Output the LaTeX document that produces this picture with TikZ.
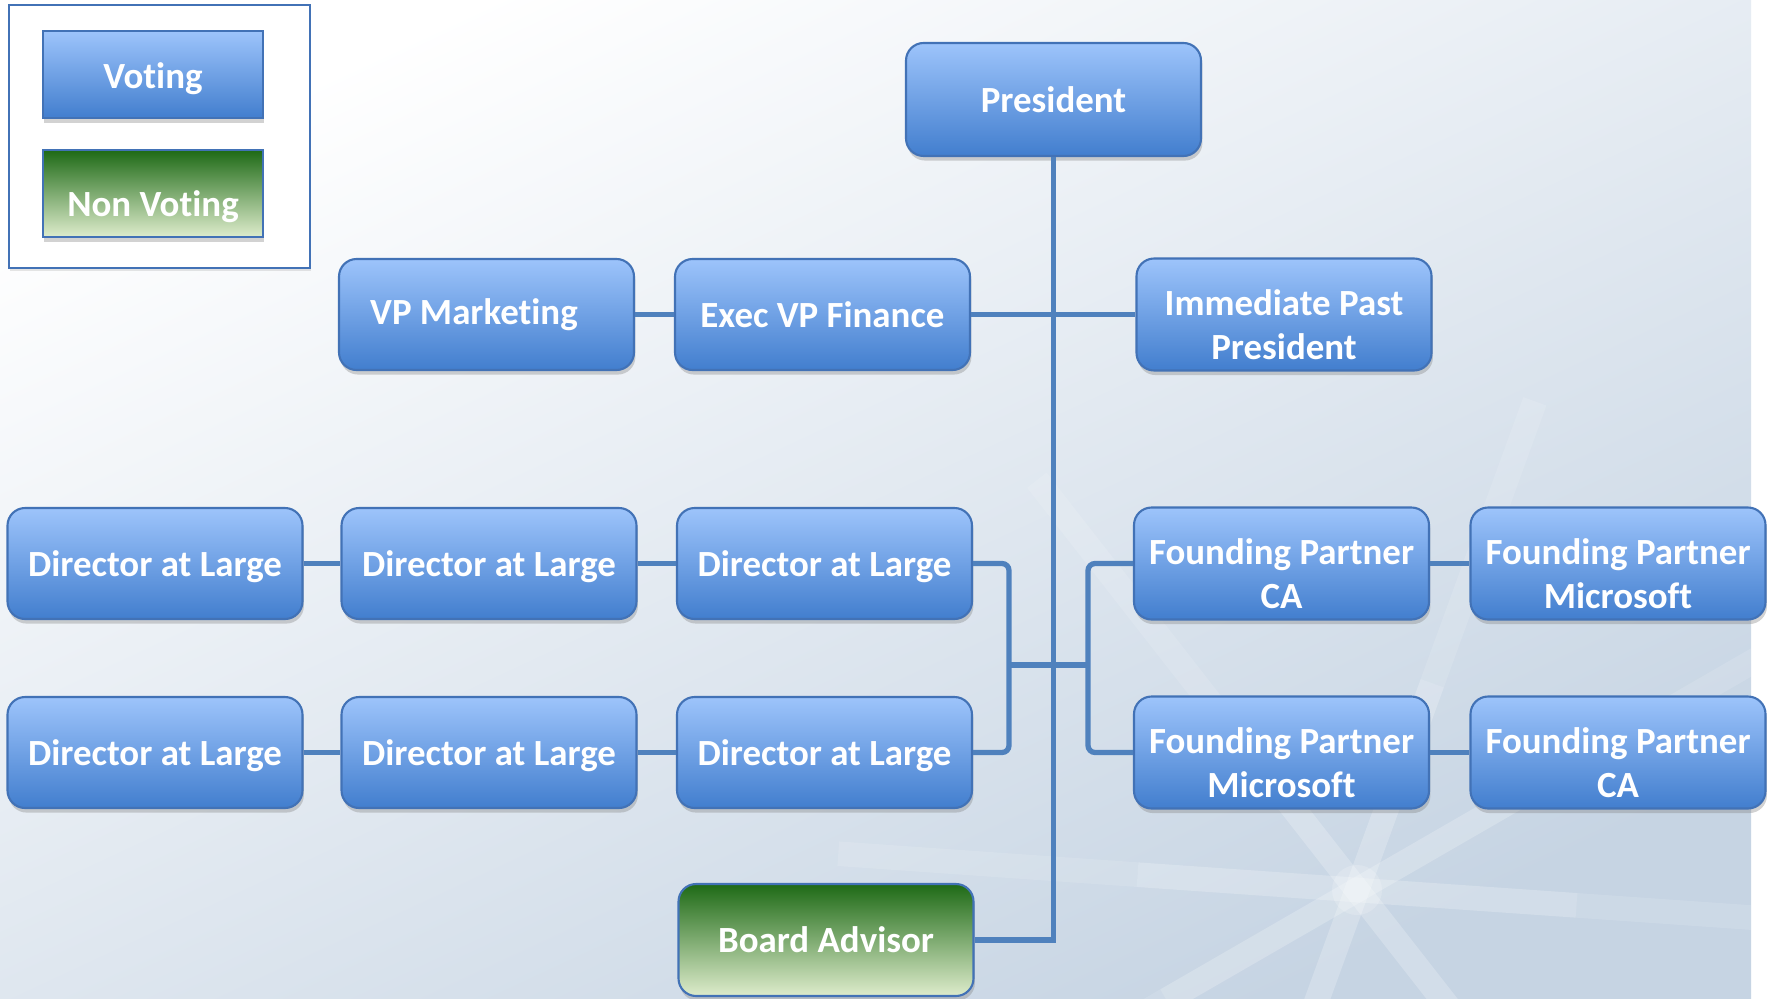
\documentclass[tikz,border=0pt]{standalone}
\usepackage{fontspec}
\setmainfont[Ligatures=NoCommon]{Carlito}
\usepackage{tikz}
\usetikzlibrary{shadows}

\definecolor{boxtop}{RGB}{157,196,251}
\definecolor{boxbot}{RGB}{66,126,206}
\definecolor{boxline}{RGB}{66,114,182}
\definecolor{linkblue}{RGB}{79,129,189}
\definecolor{greentop}{RGB}{30,106,22}
\definecolor{greenmid}{RGB}{128,172,92}
\definecolor{greenbot}{RGB}{222,236,204}
\definecolor{bgblue}{RGB}{198,212,227}

\newcommand{\sunk}[2]{\raisebox{-#1}[\height][\depth]{#2}}
\newcommand{\twolines}[2]{\sunk{4pt}{\begin{tabular}{@{}c@{}}#1\\#2\end{tabular}}}

\begin{document}
\begin{tikzpicture}[scale=1.0,
  boxtext/.style={text=white,font=\fontsize{10.5}{12.6}\selectfont\bfseries,align=center},
  votebox/.style={boxtext,draw=boxline,line width=0.6pt,rounded corners=5pt,
    top color=boxtop,bottom color=boxbot,minimum width=2.95cm,minimum height=1.11cm,
    drop shadow={opacity=0.35,shadow xshift=0.4pt,shadow yshift=-1.3pt}},
  advbox/.style={votebox,top color=greentop,middle color=greenmid,bottom color=greenbot},
  keybox/.style={votebox,rounded corners=0pt,minimum width=2.2cm,minimum height=0.87cm},
  link/.style={draw=linkblue,line width=1.5pt}]

  \useasboundingbox (0,0) rectangle (17.73,9.98);
  \fill[white] (0,0) rectangle (17.73,9.98);
  \shade[top color=white,bottom color=bgblue,shading angle=25] (0,0) rectangle (17.51,9.98);
  \begin{scope}
    \clip (0,0) rectangle (17.51,9.98);
    \foreach \a in {-4,30,70,128}
      {\draw[white,opacity=0.22,line width=7pt]
        (13.57,1.08) -- ++(\a:2.2) (13.57,1.08) -- ++(\a+180:2.2);
       \draw[white,opacity=0.12,line width=7pt]
        (13.57,1.08) ++(\a:2.2) -- ++(\a:3) (13.57,1.08) ++(\a+180:2.2) -- ++(\a+180:3);}
    \fill[white,opacity=0.18] (13.57,1.08) circle (0.25);
  \end{scope}

  % key
  \node[draw=boxline,line width=0.8pt,fill=white,minimum width=3.01cm,minimum height=2.63cm,
    drop shadow={opacity=0.2,shadow xshift=0.3pt,shadow yshift=-0.8pt}] (key) at (1.595,8.615) {};
  \node[keybox] (vote) at (1.53,9.235) {\sunk{1.3pt}{Voting}};
  \node[keybox,top color=greentop,middle color=greenmid,bottom color=greenbot] (nonvote) at (1.53,8.045) {\sunk{3.8pt}{Non Voting}};

  % boxes
  \node[votebox,minimum height=1.13cm] (pres) at (10.535,8.985) {President};
  \node[votebox] (vpm) at (4.865,6.835) {\hspace*{-0.25cm}VP Marketing};
  \node[votebox] (evp) at (8.225,6.835) {Exec VP Finance};
  \node[votebox] (ipp) at (12.84,6.835) {\twolines{Immediate Past}{President}};

  \foreach \r/\y in {3/4.345,4/2.455}
    \foreach \c/\x in {1/1.55,2/4.89,3/8.245}
       \node[votebox] (d\r\c) at (\x,\y) {\sunk{0.8pt}{Director at Large}};

  \node[votebox] (fpca1) at (12.815,4.345) {\twolines{Founding Partner}{CA}};
  \node[votebox] (fpms1) at (16.18,4.345) {\twolines{Founding Partner}{Microsoft}};
  \node[votebox] (fpms2) at (12.815,2.455) {\twolines{Founding Partner}{Microsoft}};
  \node[votebox] (fpca2) at (16.18,2.455) {\twolines{Founding Partner}{CA}};

  \node[advbox,minimum height=1.12cm] (adv) at (8.26,0.58) {Board Advisor};

  % links
  \coordinate (lbr) at (10.09,3.33);
  \coordinate (rbr) at (10.88,3.33);

  \draw[link] (pres.south) |- (adv.east);
  \draw[link] (vpm.east) -- (evp.west);
  \draw[link] (evp.east) -- (ipp.west);
  \foreach \r in {3,4}
    \draw[link] (d\r1.east) -- (d\r2.west)
                (d\r2.east) -- (d\r3.west);
  \draw[link] (fpca1.east) -- (fpms1.west);
  \draw[link] (fpms2.east) -- (fpca2.west);
  \draw[link,rounded corners=2pt] (d33.east) -| (lbr) |- (d43.east);
  \draw[link,rounded corners=2pt] (fpca1.west) -| (rbr) |- (fpms2.west);
  \draw[link] (lbr) -- (rbr);
\end{tikzpicture}
\end{document}
